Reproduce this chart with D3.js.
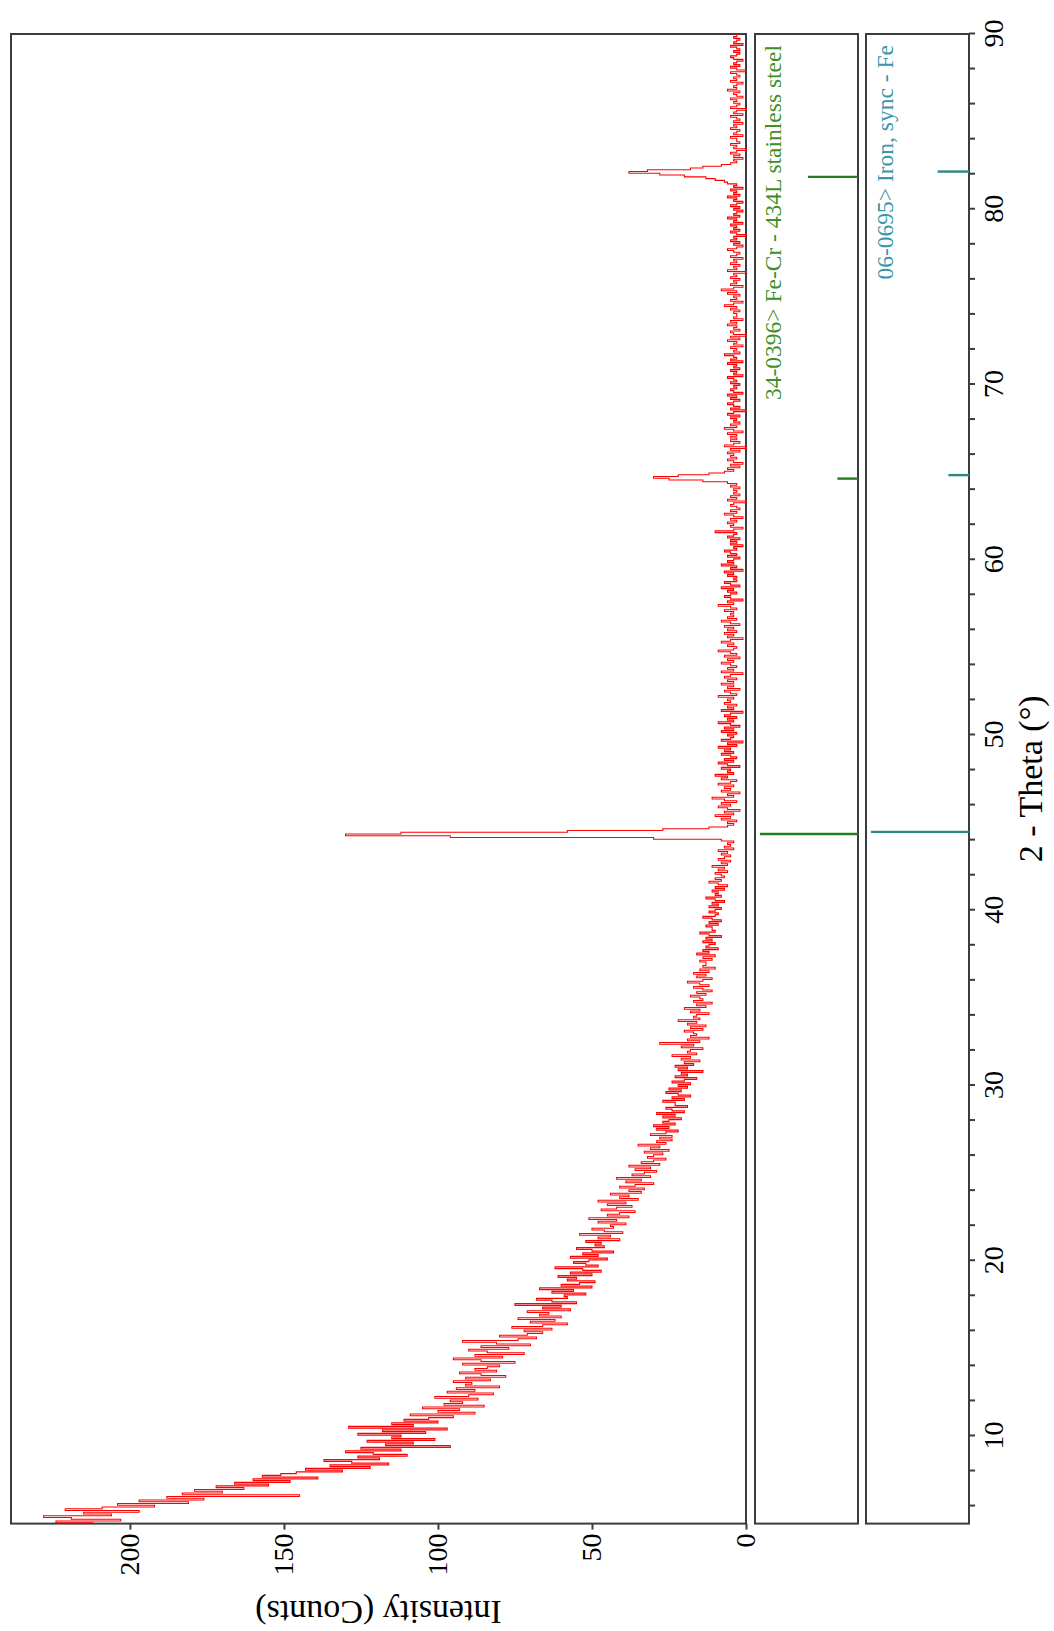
<!DOCTYPE html>
<html>
<head>
<meta charset="utf-8">
<script src="https://cdn.jsdelivr.net/npm/d3@7"></script>
<style>
  body { margin: 0; background: #fff; }
  svg { display: block; font-family: "Liberation Serif", "Times New Roman", serif; }
  svg text { font-family: "Liberation Serif", "Times New Roman", serif; }
</style>
</head>
<body>
<div id="chart"></div>
<script>
// measured pattern, 0.1 deg steps starting at 5 deg
const thetaStart = 5;
const thetaStep = 0.1;

const counts05to20 = [
  212, 224, 203, 219, 228, 206, 215, 197, 221, 209,
  192, 204, 181, 197, 176, 188, 145, 183, 170, 179,
  163, 172, 155, 166, 148, 160, 139, 157, 151, 146,
  131, 143, 122, 135, 116, 128, 137, 119, 126, 110,
  121, 130, 112, 125, 96, 117, 108, 123, 101, 115,
  112, 126, 104, 118, 97, 129, 108, 115, 100, 111,
  103, 95, 109, 88, 100, 93, 105, 85, 98, 92,
  96, 87, 101, 90, 82, 97, 88, 94, 80, 91,
  89, 95, 83, 91, 78, 86, 93, 81, 88, 84,
  80, 92, 75, 86, 95, 79, 88, 72, 84, 90,
  77, 86, 70, 81, 92, 74, 68, 80, 71, 66,
  72, 63, 76, 66, 58, 70, 62, 74, 60, 67,
  64, 71, 57, 66, 60, 75, 55, 63, 68, 58,
  59, 52, 63, 56, 67, 50, 60, 54, 49, 58,
  55, 61, 50, 57, 47, 53, 62, 48, 52, 56
];

const counts20to45 = [
  51, 45, 57, 48, 53, 43, 50, 55, 46, 49,
  47, 52, 41, 48, 44, 54, 40, 46, 50, 43,
  44, 39, 48, 42, 51, 38, 45, 41, 36, 47,
  42, 37, 45, 39, 48, 35, 41, 38, 44, 34,
  38, 33, 41, 36, 30, 39, 34, 42, 31, 37,
  33, 29, 36, 31, 38, 28, 34, 30, 26, 32,
  30, 27, 33, 25, 31, 28, 35, 26, 29, 24,
  28, 24, 31, 26, 22, 29, 25, 30, 23, 27,
  25, 21, 27, 23, 29, 20, 24, 26, 19, 23,
  23, 27, 20, 24, 18, 22, 26, 21, 25, 19,
  22, 18, 24, 20, 16, 23, 19, 21, 14, 22,
  19, 23, 17, 20, 15, 21, 18, 24, 16, 19,
  18, 14, 21, 17, 28, 15, 19, 12, 18, 16,
  17, 20, 14, 18, 13, 19, 16, 22, 15, 17,
  16, 12, 18, 15, 20, 13, 16, 11, 17, 14,
  15, 18, 13, 16, 11, 14, 17, 12, 15, 19,
  14, 11, 16, 13, 17, 12, 15, 10, 14, 13,
  13, 15, 11, 14, 10, 16, 12, 14, 9, 13,
  12, 10, 14, 11, 13, 8, 12, 15, 10, 11,
  11, 13, 9, 12, 8, 11, 14, 10, 9, 12,
  10, 8, 12, 9, 11, 7, 10, 13, 8, 10,
  9, 11, 7, 10, 6, 9, 12, 8, 10, 7,
  8, 10, 6, 9, 7, 11, 6, 8, 5, 9,
  7, 5, 8, 6, 9, 4, 7, 5, 6, 4,
  8, 30, 96, 130, 112, 58, 27, 12, 6, 4
];

const counts45to70 = [
  6, 3, 8, 5, 10, 4, 7, 2, 6, 9,
  5, 8, 3, 7, 11, 4, 6, 2, 8, 5,
  7, 4, 9, 5, 3, 8, 6, 10, 4, 6,
  5, 8, 2, 6, 9, 4, 7, 3, 5, 8,
  4, 7, 5, 9, 3, 6, 1, 8, 5, 4,
  6, 3, 8, 4, 7, 2, 5, 9, 4, 6,
  3, 7, 5, 1, 8, 4, 6, 3, 7, 5,
  6, 4, 9, 3, 5, 7, 2, 6, 4, 8,
  4, 6, 3, 7, 5, 1, 8, 4, 6, 3,
  5, 8, 4, 6, 2, 7, 3, 5, 9, 4,
  3, 6, 4, 8, 5, 1, 6, 4, 7, 3,
  6, 4, 7, 2, 5, 8, 3, 6, 4, 5,
  4, 7, 3, 5, 9, 4, 6, 1, 5, 7,
  5, 3, 6, 4, 8, 2, 5, 7, 3, 4,
  3, 6, 4, 7, 1, 5, 3, 8, 4, 6,
  4, 2, 6, 3, 5, 7, 3, 4, 1, 5,
  3, 5, 2, 6, 4, 3, 10, 4, 1, 5,
  4, 6, 3, 5, 1, 4, 7, 3, 5, 2,
  3, 5, 4, 0, 6, 3, 5, 2, 4, 3,
  4, 2, 5, 3, 6, 14, 25, 30, 22, 12,
  7, 4, 6, 2, 5, 1, 4, 6, 3, 5,
  4, 6, 2, 5, 0, 7, 4, 2, 5, 3,
  5, 3, 6, 1, 4, 7, 3, 5, 2, 4,
  3, 5, 2, 6, 4, 0, 5, 2, 4, 6,
  4, 2, 5, 3, 6, 1, 4, 5, 3, 4
];

const counts70to90 = [
  2, 5, 3, 4, 6, 1, 4, 3, 5, 2,
  4, 3, 6, 1, 5, 3, 4, 7, 2, 4,
  3, 5, 1, 4, 3, 6, 2, 5, 0, 4,
  5, 2, 4, 3, 6, 3, 5, 1, 4, 3,
  3, 4, 2, 5, 3, 7, 4, 1, 5, 3,
  4, 2, 6, 3, 8, 4, 1, 5, 3, 4,
  2, 5, 3, 4, 0, 6, 3, 4, 2, 5,
  3, 4, 1, 5, 3, 2, 4, 6, 3, 1,
  4, 2, 5, 3, 4, 0, 3, 5, 2, 4,
  3, 5, 1, 4, 3, 6, 2, 4, 3, 1,
  4, 2, 5, 3, 1, 4, 3, 6, 2, 4,
  3, 5, 1, 4, 3, 6, 7, 10, 13, 20,
  28, 38, 32, 18, 14, 8, 5, 3, 4, 1,
  4, 2, 5, 3, 0, 4, 3, 5, 2, 3,
  3, 5, 1, 4, 3, 2, 5, 3, 4, 1,
  4, 2, 3, 5, 1, 4, 3, 0, 5, 3,
  2, 4, 3, 5, 1, 3, 4, 2, 6, 3,
  4, 3, 1, 5, 3, 4, 2, 3, 5, 0,
  3, 5, 2, 4, 3, 1, 4, 5, 3, 2,
  4, 2, 3, 5, 1, 4, 3, 2, 4, 3,
  3
];

// reference patterns (relative intensity, %)
const feCrLabel = "34-0396> Fe-Cr - 434L stainless steel";
const feCrTheta = [44.35, 64.63, 81.85];
const feCrRel = [100, 21, 51];

const feLabel = "06-0695> Iron, sync - Fe";
const feTheta = [44.47, 64.83, 82.15];
const feRel = [100, 21, 32];

const thetaTicks = [10, 20, 30, 40, 50, 60, 70, 80, 90];
const countTicks = [0, 50, 100, 150, 200];

const W = 1054, H = 1631;
const frameColor = "#3c3c3c";
const serif = '"Liberation Serif", "Times New Roman", serif';

const counts = [...counts05to20, ...counts20to45, ...counts45to70, ...counts70to90];
const pattern = counts.map((c, i) => ({ theta: thetaStart + i * thetaStep, counts: c }));

const svg = d3.select("#chart").append("svg")
  .attr("width", W)
  .attr("height", H);

// the plot is built upright and then turned a quarter turn counter-clockwise
const g = svg.append("g")
  .attr("transform", `translate(0,${H}) rotate(-90)`);

const x = d3.scaleLinear().domain([5, 90]).range([107.4, 1597]);
const y = d3.scaleLinear().domain([0, 238.6]).range([746, 11]);
const yFeCr = d3.scaleLinear().domain([0, 105]).range([858, 755]);
const yFe = d3.scaleLinear().domain([0, 105]).range([969, 866]);

// frames
const frames = [[11, 746], [755, 858], [866, 969]];
g.append("g")
  .selectAll("rect")
  .data(frames)
  .join("rect")
  .attr("x", x(5))
  .attr("y", d => d[0])
  .attr("width", x(90) - x(5))
  .attr("height", d => d[1] - d[0])
  .attr("fill", "none")
  .attr("stroke", frameColor)
  .attr("stroke-width", 2);

// pattern
const line = d3.line()
  .x(d => x(d.theta))
  .y(d => y(d.counts))
  .curve(d3.curveStep);

g.append("path")
  .datum(pattern)
  .attr("d", line)
  .attr("fill", "none")
  .attr("stroke", "#ff0000")
  .attr("stroke-width", 1.1);

// reference sticks
g.append("g")
  .selectAll("line")
  .data(feCrTheta)
  .join("line")
  .attr("x1", d => x(d))
  .attr("x2", d => x(d))
  .attr("y1", yFeCr(0))
  .attr("y2", (d, i) => yFeCr(feCrRel[i]))
  .attr("stroke", "#1f7f1f")
  .attr("stroke-width", 2.4);

g.append("g")
  .selectAll("line")
  .data(feTheta)
  .join("line")
  .attr("x1", d => x(d))
  .attr("x2", d => x(d))
  .attr("y1", yFe(0))
  .attr("y2", (d, i) => yFe(feRel[i]))
  .attr("stroke", "#2b8888")
  .attr("stroke-width", 2.4);

g.append("text")
  .attr("x", 1586)
  .attr("y", 781)
  .attr("text-anchor", "end")
  .style("font-family", serif)
  .attr("font-size", 23.5)
  .attr("fill", "#3f8f26")
  .text(feCrLabel);

g.append("text")
  .attr("x", 1586)
  .attr("y", 893)
  .attr("text-anchor", "end")
  .style("font-family", serif)
  .attr("font-size", 23.5)
  .attr("fill", "#3896aa")
  .text(feLabel);

// 2-theta axis (under the last panel)
const xAxis = g.append("g")
  .attr("transform", "translate(0,969)")
  .call(d3.axisBottom(x).tickValues(thetaTicks).tickSize(6).tickPadding(8));
xAxis.append("g")
  .call(d3.axisBottom(x).tickValues(d3.range(6, 90, 2).filter(v => v % 10 !== 0)).tickSize(6).tickFormat(""));

xAxis.selectAll(".domain").remove();
xAxis.selectAll("line").attr("stroke", frameColor).attr("stroke-width", 2);
xAxis.selectAll("text")
  .style("font-family", serif)
  .attr("font-size", 28)
  .attr("fill", "#000");

// intensity axis
const yAxis = g.append("g")
  .attr("transform", `translate(${x(5)},0)`)
  .call(d3.axisLeft(y).tickValues(countTicks).tickSize(6).tickPadding(4));
yAxis.select(".domain").remove();
yAxis.selectAll("line").attr("stroke", frameColor).attr("stroke-width", 2);
yAxis.selectAll("text")
  .style("font-family", serif)
  .attr("font-size", 28)
  .attr("fill", "#000");

// axis titles
g.append("text")
  .attr("x", x(47.5))
  .attr("y", 1042)
  .attr("text-anchor", "middle")
  .style("font-family", serif)
  .attr("font-size", 34)
  .text("2 - Theta (°)");

g.append("text")
  .attr("transform", `translate(30,${(11 + 746) / 2}) rotate(-90)`)
  .attr("text-anchor", "middle")
  .style("font-family", serif)
  .attr("font-size", 34)
  .text("Intensity (Counts)");
</script>
</body>
</html>
